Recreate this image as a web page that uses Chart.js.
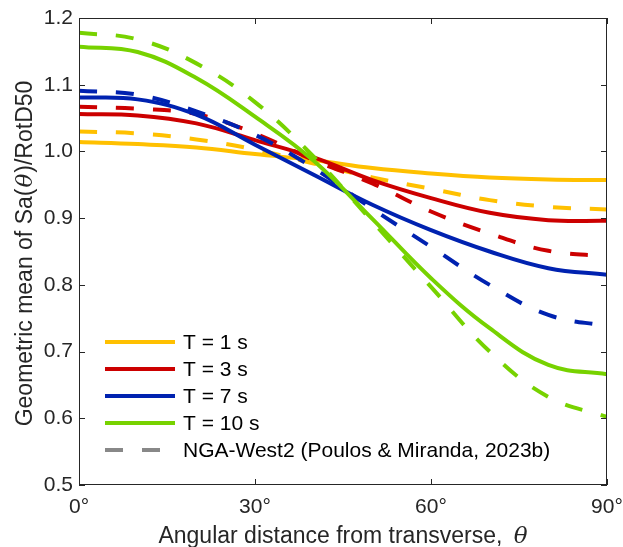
<!DOCTYPE html>
<html>
<head>
<meta charset="utf-8">
<script src="https://cdn.jsdelivr.net/npm/chart.js@4"></script>
<style>
  html, body { margin: 0; padding: 0; background: #fff; }
  #wrap { width: 623px; height: 547px; }
</style>
</head>
<body>
<div id="wrap"><canvas id="chart" width="623" height="547"></canvas></div>
<script>
// angles (deg) at which the curves were read
var angles = [0, 10, 20, 30, 40, 50, 60, 70, 80, 90];

// this study (solid)
var t1  = [1.014, 1.011, 1.006, 0.996, 0.987, 0.975, 0.967, 0.961, 0.958, 0.957];
var t3  = [1.056, 1.054, 1.042, 1.017, 0.991, 0.957, 0.930, 0.908, 0.897, 0.896];
var t7  = [1.081, 1.078, 1.055, 1.010, 0.965, 0.920, 0.882, 0.850, 0.825, 0.815];
var t10 = [1.157, 1.149, 1.110, 1.052, 0.986, 0.899, 0.810, 0.735, 0.680, 0.666];

// NGA-West2 (dashed)
var nga1  = [1.030, 1.027, 1.018, 1.003, 0.982, 0.961, 0.944, 0.927, 0.917, 0.913];
var nga3  = [1.067, 1.064, 1.056, 1.027, 0.987, 0.952, 0.910, 0.877, 0.851, 0.843];
var nga7  = [1.091, 1.085, 1.060, 1.025, 0.975, 0.914, 0.857, 0.800, 0.755, 0.738];
var nga10 = [1.178, 1.168, 1.132, 1.074, 0.992, 0.895, 0.797, 0.700, 0.632, 0.602];

var periodLabels = ['T = 1 s', 'T = 3 s', 'T = 7 s', 'T = 10 s'];
var ngaLabel = 'NGA-West2 (Poulos & Miranda, 2023b)';
var colors = ['#FFC000', '#CC0000', '#0022B0', '#77D200'];

var xTicks = [0, 30, 60, 90];
var yTicks = [0.5, 0.6, 0.7, 0.8, 0.9, 1.0, 1.1, 1.2];

var axisColor = '#262626';
var font = '"Liberation Sans", Arial, Helvetica, sans-serif';
var mathFont = 'italic 23px "DejaVu Serif", "Liberation Serif", serif';
var dashPattern = [18, 19];

function pts(arr) {
  return arr.map(function (v, i) { return { x: angles[i], y: v }; });
}

var solid = [t1, t3, t7, t10];
var dashed = [nga1, nga3, nga7, nga10];
var datasets = [];
// green first so it ends up on top
for (var i = 3; i >= 0; i--) {
  datasets.push({
    label: ngaLabel + ' ' + periodLabels[i],
    data: pts(dashed[i]),
    borderColor: colors[i],
    borderWidth: 4,
    borderDash: dashPattern,
    borderCapStyle: 'butt',
    pointRadius: 0,
    fill: false,
    tension: 0.4
  });
  datasets.push({
    label: periodLabels[i],
    data: pts(solid[i]),
    borderColor: colors[i],
    borderWidth: 4,
    pointRadius: 0,
    fill: false,
    tension: 0.4
  });
}

// box, inward ticks, axis titles and legend
var decorations = {
  id: 'decorations',
  afterDraw: function (chart) {
    var ctx = chart.ctx;
    var a = chart.chartArea;
    var xs = chart.scales.x, ys = chart.scales.y;
    ctx.save();
    ctx.strokeStyle = axisColor;
    ctx.lineWidth = 1;
    ctx.strokeRect(a.left + 0.5, a.top + 0.5, a.right - a.left - 1, a.bottom - a.top - 1);
    var tl = 6;
    ctx.beginPath();
    xTicks.forEach(function (t) {
      var px = Math.round(xs.getPixelForValue(t)) + 0.5;
      ctx.moveTo(px, a.bottom); ctx.lineTo(px, a.bottom - tl);
      ctx.moveTo(px, a.top); ctx.lineTo(px, a.top + tl);
    });
    yTicks.forEach(function (t) {
      var py = Math.round(ys.getPixelForValue(t)) + 0.5;
      ctx.moveTo(a.left, py); ctx.lineTo(a.left + tl, py);
      ctx.moveTo(a.right, py); ctx.lineTo(a.right - tl, py);
    });
    ctx.stroke();

    // x title
    ctx.fillStyle = axisColor;
    ctx.textBaseline = 'alphabetic';
    ctx.textAlign = 'left';
    var xt = 'Angular distance from transverse, ';
    ctx.font = '23px ' + font;
    var w1 = ctx.measureText(xt).width;
    ctx.font = mathFont;
    var w2 = ctx.measureText('\u03B8').width;
    var x0 = (a.left + a.right) / 2 - (w1 + w2 + 5) / 2;
    ctx.font = '23px ' + font;
    ctx.fillText(xt, x0, 543);
    ctx.font = mathFont;
    ctx.fillText('\u03B8', x0 + w1 + 5, 543);

    // y title (rotated)
    ctx.save();
    ctx.translate(32, (a.top + a.bottom) / 2 + 2);
    ctx.rotate(-Math.PI / 2);
    var p1 = 'Geometric mean of Sa(', p3 = ')/RotD50';
    ctx.font = '23px ' + font;
    var m1 = ctx.measureText(p1).width, m3 = ctx.measureText(p3).width;
    ctx.font = mathFont;
    var m2 = ctx.measureText('\u03B8').width;
    var start = -(m1 + m2 + m3 + 2) / 2;
    ctx.font = '23px ' + font;
    ctx.fillText(p1, start, 0);
    ctx.font = mathFont;
    ctx.fillText('\u03B8', start + m1 + 1, 0);
    ctx.font = '23px ' + font;
    ctx.fillText(p3, start + m1 + m2 + 2, 0);
    ctx.restore();

    // legend
    var lx0 = 105, lx1 = 175, ly = 342, dy = 27;
    ctx.font = '21px ' + font;
    ctx.textBaseline = 'middle';
    ctx.fillStyle = '#000';
    var entries = periodLabels.map(function (l, k) { return { text: l, color: colors[k], dash: [] }; });
    entries.push({ text: ngaLabel, color: '#888888', dash: dashPattern });
    entries.forEach(function (e, k) {
      var y = ly + k * dy;
      ctx.beginPath();
      ctx.setLineDash(e.dash);
      ctx.lineCap = 'butt';
      ctx.strokeStyle = e.color;
      ctx.lineWidth = 4;
      ctx.moveTo(lx0, y); ctx.lineTo(lx1, y);
      ctx.stroke();
      ctx.setLineDash([]);
      ctx.fillText(e.text, 183, y + 1);
    });
    ctx.restore();
  }
};

var ctx = document.getElementById('chart').getContext('2d');
var chart = new Chart(ctx, {
  type: 'line',
  data: { datasets: datasets },
  options: {
    responsive: false,
    animation: false,
    layout: { padding: { left: 0, top: 18, right: 16, bottom: 0 } },
    plugins: { legend: { display: false }, tooltip: { enabled: false } },
    scales: {
      x: {
        type: 'linear',
        min: 0, max: 90,
        afterFit: function (s) { s.height = 62; s.paddingLeft = 0; s.paddingRight = 0; },
        afterBuildTicks: function (s) { s.ticks = xTicks.map(function (v) { return { value: v }; }); },
        grid: { display: false, drawTicks: false },
        border: { display: false },
        ticks: {
          padding: 10,
          color: axisColor,
          font: { family: font, size: 21 },
          callback: function (v) { return v + '\u00B0'; }
        }
      },
      y: {
        type: 'linear',
        min: 0.5, max: 1.2,
        afterFit: function (s) { s.width = 79; s.paddingTop = 0; s.paddingBottom = 0; },
        afterBuildTicks: function (s) { s.ticks = yTicks.map(function (v) { return { value: v }; }); },
        grid: { display: false, drawTicks: false },
        border: { display: false },
        ticks: {
          padding: 6,
          color: axisColor,
          font: { family: font, size: 21 },
          callback: function (v) { return Number(v).toFixed(1); }
        }
      }
    }
  },
  plugins: [decorations]
});
</script>
</body>
</html>
